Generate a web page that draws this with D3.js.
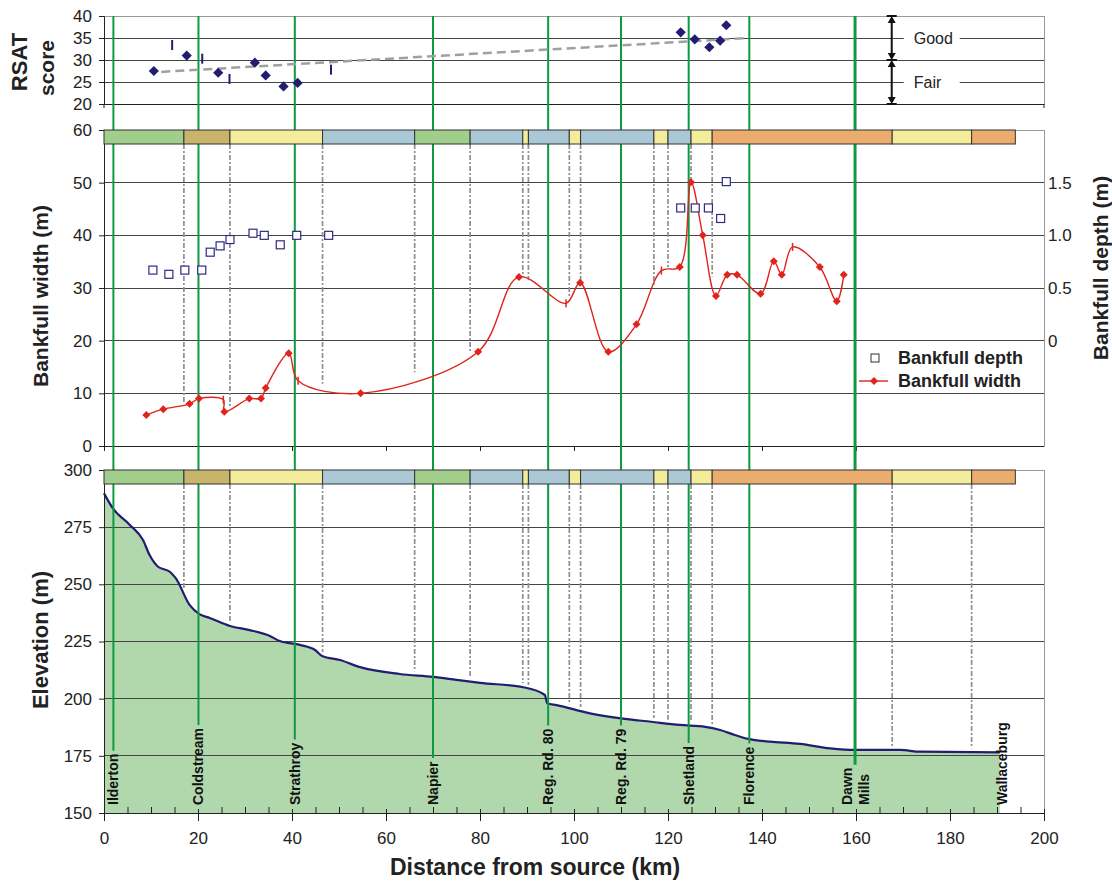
<!DOCTYPE html>
<html>
<head>
<meta charset="utf-8">
<script src="https://cdn.jsdelivr.net/npm/d3@7"></script>
<style>
body { margin: 0; background: #fff; }
text { font-family: "Liberation Sans", Arial, sans-serif; }
</style>
</head>
<body>
<svg id="chart" width="1112" height="886"></svg>
<script>
// ---- data ----
const towns = ['Ilderton', 'Coldstream', 'Strathroy', 'Napier', 'Reg. Rd. 80', 'Reg. Rd. 79', 'Shetland', 'Florence', 'Dawn\nMills', 'Wallaceburg'];
const townKm = [2.0, 20.1, 40.6, 70.0, 94.5, 110.0, 124.4, 137.3, 159.8, 191.0];
const townsNoLine = ['Wallaceburg'];

const rsatKm = [10.6, 17.6, 24.3, 32.1, 34.4, 38.2, 41.2, 122.7, 125.7, 128.8, 131.1, 132.4];
const rsatScore = [27.5, 31.0, 27.1, 29.4, 26.5, 24.0, 24.8, 36.3, 34.7, 32.9, 34.4, 37.9];
const rsatTickKm = [14.5, 20.9, 26.7, 48.3];
const rsatTickScore = [33.4, 30.3, 25.7, 27.8];
const trendKm = [12.2, 137.0];
const trendScore = [27.3, 35.0];
const rsatClasses = ['Good', 'Fair'];
const rsatClassRange = [[30, 40], [20, 30]];
const rsatTicks = [20, 25, 30, 35, 40];

const widthKm = [9.0, 12.6, 18.2, 20.2, 25.4, 25.6, 30.9, 33.4, 34.4, 39.3, 41.3, 54.6, 79.6, 88.3, 98.3, 101.3, 107.3, 113.3, 118.6, 122.5, 124.9, 127.4, 130.2, 132.6, 134.7, 139.7, 142.5, 144.2, 146.5, 152.3, 155.9, 157.4];
const widthM = [5.9, 7.0, 8.0, 9.0, 8.8, 6.5, 9.0, 9.0, 11.0, 17.6, 12.4, 10.0, 17.9, 32.1, 27.1, 31.0, 17.9, 23.1, 33.3, 34.0, 50.1, 40.0, 28.5, 32.5, 32.5, 28.9, 35.1, 32.5, 37.8, 34.0, 27.5, 32.5];
const widthTickKm = [25.4, 41.3, 98.3, 118.6, 146.5];
const widthTicks = [0, 10, 20, 30, 40, 50, 60];

const depthKm = [10.4, 13.8, 17.2, 20.8, 22.6, 24.7, 26.8, 31.7, 34.1, 37.5, 41.0, 47.8, 122.7, 125.8, 128.6, 131.2, 132.4];
const depthM = [0.67, 0.63, 0.67, 0.67, 0.84, 0.90, 0.96, 1.02, 1.00, 0.91, 1.00, 1.00, 1.26, 1.26, 1.26, 1.16, 1.51];
const depthTicks = [0, 0.5, 1.0, 1.5];

const elevKm = [0, 1.9, 5.5, 8.3, 9.7, 11.5, 14.0, 15.3, 18.2, 20.3, 22.5, 26.8, 31.0, 35.3, 37.4, 41.7, 44.9, 46.4, 50.2, 54.5, 62.9, 70.0, 75.0, 80.0, 89.2, 93.8, 94.3, 96.3, 103.4, 110.0, 116.4, 122.5, 127.9, 131.1, 134.2, 136.4, 138.5, 141.7, 148.1, 154.5, 159.8, 169.4, 173.6, 190.6];
const elevM = [289.8, 283.2, 276.0, 269.4, 262.8, 257.7, 255.5, 252.6, 241.0, 237.0, 235.3, 231.8, 230.0, 227.4, 225.2, 223.5, 221.3, 218.7, 216.9, 213.8, 210.8, 209.5, 208.2, 206.9, 205.0, 201.6, 198.0, 197.2, 193.6, 191.4, 189.9, 188.5, 187.7, 186.3, 184.1, 182.7, 181.9, 181.2, 180.2, 178.3, 177.6, 177.6, 176.8, 176.5];
const elevTicks = [150, 175, 200, 225, 250, 275, 300];

const bandBreaks = [0, 17.0, 26.8, 46.5, 66.1, 77.9, 89.1, 90.3, 99.0, 101.4, 117.0, 120.0, 124.9, 129.4, 167.7, 184.6, 193.9];
const bandTypes = ['green', 'tan', 'yellow', 'blue', 'green', 'blue', 'yellow', 'blue', 'yellow', 'blue', 'yellow', 'blue', 'yellow', 'orange', 'yellow', 'orange'];

const distTicks = [0, 20, 40, 60, 80, 100, 120, 140, 160, 180, 200];

// ---- layout ----
const svg = d3.select('#chart');
const X0 = 104, X1 = 1044;
const x = d3.scaleLinear().domain([0, 200]).range([X0, X1]);
const yR = d3.scaleLinear().domain([20, 40]).range([104, 16]);
const yW = d3.scaleLinear().domain([0, 60]).range([446, 130]);
const yD = d3.scaleLinear().domain([-1, 2]).range([446, 130]);
const yE = d3.scaleLinear().domain([150, 300]).range([813, 470]);

const bandColor = d3.scaleOrdinal()
    .domain(['green', 'tan', 'yellow', 'blue', 'orange'])
    .range(['#a1cf8b', '#c8b56b', '#f3ec9b', '#abc8d6', '#eaad6d']);
const GREEN = '#0f9a42';
const NAVY = '#221d70';
const RED = '#e0231c';
const FONT = '"Liberation Sans", Arial, sans-serif';

function interp(xs, ys, k) {
    const i = Math.max(0, Math.min(xs.length - 2, d3.bisectRight(xs, k) - 1));
    const t = (k - xs[i]) / (xs[i + 1] - xs[i]);
    return ys[i] + t * (ys[i + 1] - ys[i]);
}

// frame + gridlines of one panel
function panel(yScale, ticks) {
    const g = svg.append('g');
    const top = yScale(ticks[ticks.length - 1]);
    const bottom = yScale(ticks[0]);
    g.append('rect')
        .attr('x', X0).attr('y', top)
        .attr('width', X1 - X0).attr('height', bottom - top)
        .attr('fill', 'none').attr('stroke', '#9a9a9a')
        .attr('shape-rendering', 'crispEdges');
    g.selectAll('line.grid')
        .data(ticks.slice(0, -1))
        .join('line')
            .attr('class', 'grid')
            .attr('x1', X0).attr('x2', X1)
            .attr('y1', d => yScale(d)).attr('y2', d => yScale(d))
            .attr('stroke', d => d === ticks[0] ? '#222' : '#444')
            .attr('shape-rendering', 'crispEdges');
    return g;
}

function leftAxis(yScale, ticks, fmt) {
    const g = svg.append('g')
        .attr('transform', `translate(${X0},0)`)
        .call(d3.axisLeft(yScale).tickValues(ticks).tickSize(5).tickPadding(7).tickFormat(fmt || d3.format('d')));
    g.select('.domain').attr('stroke', '#222');
    g.selectAll('.tick line').attr('stroke', '#222');
    g.selectAll('text').attr('font-family', FONT).attr('font-size', 17).attr('fill', '#222');
    return g;
}

function bands(yTop) {
    const segs = bandTypes.map((t, i) => ({ type: t, k0: bandBreaks[i], k1: bandBreaks[i + 1] }));
    svg.append('g').selectAll('rect')
        .data(segs)
        .join('rect')
            .attr('x', d => x(d.k0))
            .attr('y', yTop)
            .attr('width', d => x(d.k1) - x(d.k0))
            .attr('height', 14)
            .attr('fill', d => bandColor(d.type))
            .attr('stroke', '#333')
            .attr('stroke-width', 1);
}

function boundaryLines(yTop, endY, keep) {
    svg.append('g').selectAll('line')
        .data(bandBreaks.slice(1, -1).filter(keep))
        .join('line')
            .attr('x1', d => x(d)).attr('x2', d => x(d))
            .attr('y1', yTop).attr('y2', d => endY(d))
            .attr('stroke', '#8f8f8f')
            .attr('stroke-width', 1.7)
            .attr('stroke-dasharray', '5,2,2,2');
}

// ---- bottom panel: elevation ----
const elev = elevKm.map((k, i) => ({ k: k, e: elevM[i] }));
svg.append('path')
    .datum(elev)
    .attr('fill', '#b0d8ac')
    .attr('d', d3.area().x(d => x(d.k)).y0(yE(150)).y1(d => yE(d.e)).curve(d3.curveMonotoneX));
panel(yE, elevTicks);
boundaryLines(yE(300) + 14, k => yE(interp(elevKm, elevM, k)) - 4, () => true);
svg.append('path')
    .datum(elev)
    .attr('fill', 'none')
    .attr('stroke', NAVY)
    .attr('stroke-width', 2.2)
    .attr('d', d3.line().x(d => x(d.k)).y(d => yE(d.e)).curve(d3.curveMonotoneX));
leftAxis(yE, elevTicks);

// x axis: minor ticks inside, major ticks across
const minor = svg.append('g')
    .attr('transform', `translate(0,${yE(150)})`)
    .call(d3.axisBottom(x).tickValues(d3.range(0, 201, 5).filter(v => v % 20)).tickSize(-6).tickFormat(''));
minor.select('.domain').remove();
minor.selectAll('line').attr('stroke', '#222');
const xAxis = svg.append('g')
    .attr('transform', `translate(0,${yE(150)})`)
    .call(d3.axisBottom(x).tickValues(distTicks).tickSizeInner(8).tickSizeOuter(0).tickPadding(11));
xAxis.select('.domain').attr('stroke', '#222');
xAxis.selectAll('.tick line').attr('y1', -4).attr('stroke', '#222');
xAxis.selectAll('text').attr('font-family', FONT).attr('font-size', 17).attr('fill', '#222');

// ---- middle panel: bankfull width / depth ----
panel(yW, widthTicks);
const wExtent = d3.extent(widthKm);
boundaryLines(yW(60) + 14, k => yW(interp(widthKm, widthM, k)) - 2, k => k >= wExtent[0] && k <= wExtent[1]);
leftAxis(yW, widthTicks);

const midAxis = svg.append('g')
    .attr('transform', `translate(0,${yW(0)})`)
    .call(d3.axisBottom(x).tickValues(d3.range(0, 161, 20)).tickSizeInner(5).tickSizeOuter(0).tickFormat(''));
midAxis.select('.domain').remove();
midAxis.selectAll('line').attr('stroke', '#222');

const rightAxis = svg.append('g')
    .attr('transform', `translate(${X1},0)`)
    .call(d3.axisRight(yD).tickValues(depthTicks).tickSize(0).tickPadding(4).tickFormat(d => d === 0 ? '0' : d3.format('.1f')(d)));
rightAxis.select('.domain').remove();
rightAxis.selectAll('text').attr('font-family', FONT).attr('font-size', 17).attr('fill', '#222');

// ---- top panel: RSAT ----
panel(yR, rsatTicks);
leftAxis(yR, rsatTicks);
svg.append('g').selectAll('line')
    .data([0, 200])
    .join('line')
        .attr('x1', d => x(d)).attr('x2', d => x(d))
        .attr('y1', yR(20)).attr('y2', yR(20) + 4)
        .attr('stroke', '#222');

// ---- green town lines + labels ----
const townData = towns.map((t, i) => ({ name: t, k: townKm[i] }));
const labels = svg.append('g').selectAll('text')
    .data(townData)
    .join('text')
        .attr('transform', d => {
            const n = d.name.split('\n').length;
            return `translate(${x(d.k) + 5 - (n - 1) * 8.5},805) rotate(-90)`;
        })
        .attr('font-size', 14)
        .attr('font-weight', 'bold')
        .attr('fill', '#111');
labels.selectAll('tspan')
    .data(d => d.name.split('\n'))
    .join('tspan')
        .attr('x', 0)
        .attr('dy', (d, i) => i ? 17 : 0)
        .text(d => d);
labels.each(function (d) { d.len = this.getBBox().width; });

svg.append('g').selectAll('line')
    .data(townData.filter(d => !townsNoLine.includes(d.name)))
    .join('line')
        .attr('x1', d => x(d.k)).attr('x2', d => x(d.k))
        .attr('y1', yR(40))
        .attr('y2', d => 805 - d.len - 3)
        .attr('stroke', GREEN)
        .attr('stroke-width', d => d.name.startsWith('Dawn') ? 3 : 2);
labels.raise();

bands(yW(60));
bands(yE(300));

// ---- width line + markers ----
const width = widthKm.map((k, i) => ({ k: k, w: widthM[i] }));
svg.append('path')
    .datum(width)
    .attr('fill', 'none')
    .attr('stroke', RED)
    .attr('stroke-width', 1.4)
    .attr('d', d3.line().x(d => x(d.k)).y(d => yW(d.w)).curve(d3.curveCatmullRom.alpha(0.5)));
svg.append('g').selectAll('path')
    .data(width.filter(d => !widthTickKm.includes(d.k)))
    .join('path')
        .attr('transform', d => `translate(${x(d.k)},${yW(d.w)}) rotate(45)`)
        .attr('d', d3.symbol(d3.symbolSquare, 32))
        .attr('fill', RED);
svg.append('g').selectAll('line')
    .data(width.filter(d => widthTickKm.includes(d.k)))
    .join('line')
        .attr('x1', d => x(d.k)).attr('x2', d => x(d.k))
        .attr('y1', d => yW(d.w) - 4).attr('y2', d => yW(d.w) + 4)
        .attr('stroke', RED).attr('stroke-width', 1.5);

// depth squares
svg.append('g').selectAll('rect')
    .data(depthKm.map((k, i) => ({ k: k, d: depthM[i] })))
    .join('rect')
        .attr('x', d => x(d.k) - 4).attr('y', d => yD(d.d) - 4)
        .attr('width', 8).attr('height', 8)
        .attr('fill', '#fff')
        .attr('stroke', '#2e2a86')
        .attr('stroke-width', 1.2);

// legend
const legend = svg.append('g').attr('transform', 'translate(859,358)');
legend.append('rect')
    .attr('x', 12).attr('y', -4).attr('width', 8).attr('height', 8)
    .attr('fill', '#fff').attr('stroke', '#333').attr('stroke-width', 1);
legend.append('line')
    .attr('x1', 0).attr('x2', 29).attr('y1', 23).attr('y2', 23)
    .attr('stroke', RED).attr('stroke-width', 1.4);
legend.append('path')
    .attr('transform', 'translate(15,23) rotate(45)')
    .attr('d', d3.symbol(d3.symbolSquare, 32))
    .attr('fill', RED);
legend.selectAll('text')
    .data(['Bankfull depth', 'Bankfull width'])
    .join('text')
        .attr('x', 39)
        .attr('y', (d, i) => i * 23 + 6)
        .attr('font-size', 18)
        .attr('font-weight', 'bold')
        .attr('fill', '#222')
        .text(d => d);

// ---- RSAT markers ----
svg.append('path')
    .attr('fill', 'none')
    .attr('stroke', '#a0a0a0')
    .attr('stroke-width', 2.5)
    .attr('stroke-dasharray', '9,5')
    .attr('d', d3.line()(trendKm.map((k, i) => [x(k), yR(trendScore[i])])));
svg.append('g').selectAll('path')
    .data(rsatKm.map((k, i) => ({ k: k, s: rsatScore[i] })))
    .join('path')
        .attr('transform', d => `translate(${x(d.k)},${yR(d.s)}) rotate(45)`)
        .attr('d', d3.symbol(d3.symbolSquare, 52))
        .attr('fill', NAVY);
svg.append('g').selectAll('line')
    .data(rsatTickKm.map((k, i) => ({ k: k, s: rsatTickScore[i] })))
    .join('line')
        .attr('x1', d => x(d.k)).attr('x2', d => x(d.k))
        .attr('y1', d => yR(d.s) - 5).attr('y2', d => yR(d.s) + 5)
        .attr('stroke', NAVY).attr('stroke-width', 2);

// Good / Fair ranges
const arrowX = x(167.6);
const cls = svg.append('g').selectAll('g')
    .data(rsatClasses.map((c, i) => ({ name: c, lo: rsatClassRange[i][0], hi: rsatClassRange[i][1] })))
    .join('g');
cls.append('rect')
    .attr('x', arrowX + 12).attr('y', d => yR((d.lo + d.hi) / 2) - 9)
    .attr('width', 56).attr('height', 18)
    .attr('fill', '#fff');
cls.append('text')
    .attr('x', arrowX + 22)
    .attr('y', d => yR((d.lo + d.hi) / 2) + 6)
    .attr('font-size', 16)
    .attr('fill', '#222')
    .text(d => d.name);
cls.append('line')
    .attr('x1', arrowX).attr('x2', arrowX)
    .attr('y1', d => yR(d.hi) + 2).attr('y2', d => yR(d.lo) - 2)
    .attr('stroke', '#111').attr('stroke-width', 2);
cls.each(function (d) {
    const g = d3.select(this);
    [[d.hi, 1], [d.lo, -1]].forEach(([v, dir]) => {
        const y0 = yR(v);
        g.append('line')
            .attr('x1', arrowX - 5).attr('x2', arrowX + 5)
            .attr('y1', y0).attr('y2', y0)
            .attr('stroke', '#111').attr('stroke-width', 2);
        g.append('path')
            .attr('d', `M${arrowX},${y0}L${arrowX - 4},${y0 + dir * 7}L${arrowX + 4},${y0 + dir * 7}Z`)
            .attr('fill', '#111');
    });
});

// ---- axis titles ----
function vTitle(tx, ty, txt, size) {
    svg.append('text')
        .attr('transform', `translate(${tx},${ty}) rotate(-90)`)
        .attr('text-anchor', 'middle')
        .attr('font-size', size)
        .attr('font-weight', 'bold')
        .attr('fill', '#222')
        .text(txt);
}
vTitle(27, 62, 'RSAT', 22);
vTitle(54, 68, 'score', 21);
vTitle(48, 296, 'Bankfull width (m)', 21);
vTitle(48, 640, 'Elevation (m)', 22);
vTitle(1108, 268, 'Bankfull depth (m)', 21);
svg.append('text')
    .attr('x', 535).attr('y', 875)
    .attr('text-anchor', 'middle')
    .attr('font-size', 23)
    .attr('font-weight', 'bold')
    .attr('fill', '#222')
    .text('Distance from source (km)');
</script>
</body>
</html>
